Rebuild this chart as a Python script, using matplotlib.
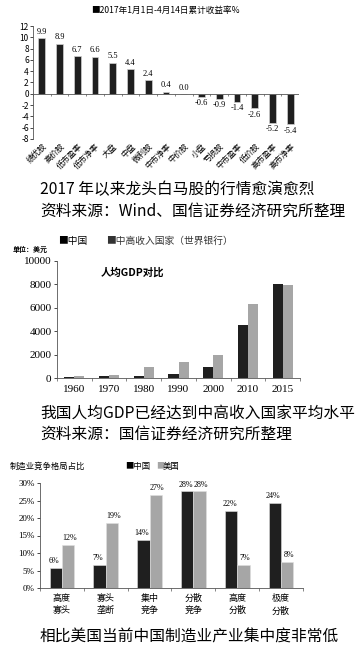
import matplotlib
matplotlib.use('Agg')
import matplotlib.pyplot as plt
import numpy as np

plt.rcParams['font.family'] = ['Noto Sans CJK SC', 'DejaVu Sans']
plt.rcParams['axes.unicode_minus'] = False

W, H = 356, 647

# chart 1: 2017 returns by style index
styles = ['绩优股', '高价股', '低市盈率', '低市净率', '大盘', '中盘', '微利股', '中市净率',
          '中价股', '小盘', '亏损股', '中市盈率', '低价股', '高市盈率', '高市净率']
returns = [9.9, 8.9, 6.7, 6.6, 5.5, 4.4, 2.4, 0.4, 0.0, -0.6, -0.9, -1.4, -2.6, -5.2, -5.4]

# chart 2: GDP per capita
years = ['1960', '1970', '1980', '1990', '2000', '2010', '2015']
gdp_china = [120, 130, 210, 320, 960, 4560, 8030]
gdp_umi = [190, 290, 900, 1330, 1960, 6330, 7950]

# chart 3: manufacturing competition structure
structures = ['高度\n寡头', '寡头\n垄断', '集中\n竞争', '分散\n竞争', '高度\n分散', '极度\n分散']
share_china = [5.8, 6.6, 13.7, 27.6, 22.0, 24.2]
share_us = [12.2, 18.6, 26.7, 27.6, 6.6, 7.5]

DARK = '#1f1f1f'
GREY = '#a6a6a6'
SERIF = ['Liberation Serif', 'DejaVu Serif']


def box(l, t, r, b):
    return [l / W, 1 - b / H, (r - l) / W, (b - t) / H]


def fx(x):
    return x / W


def fy(y):
    return 1 - y / H


fig = plt.figure(figsize=(W / 100, H / 100), dpi=100)

# ---------- chart 1 ----------
ax1 = fig.add_axes(box(33, 26, 299, 139))
x1 = np.arange(len(styles))
ax1.bar(x1, returns, width=0.38, color=DARK, edgecolor='#d0d0d0', linewidth=0.5)
for xi, v in zip(x1, returns):
    if v >= 0:
        ax1.text(xi, v + 0.4, f'{v:.1f}', ha='center', va='bottom', fontsize=6, family=SERIF)
    else:
        ax1.text(xi, v - 0.4, f'{v:.1f}', ha='center', va='top', fontsize=6, family=SERIF)
ax1.set_xlim(-0.5, len(styles) - 0.5)
ax1.set_ylim(-8, 12)
ax1.set_yticks(range(-8, 13, 2))
ax1.tick_params(axis='y', labelsize=6, length=2, width=0.5, pad=1)
ax1.set_xticks(x1)
ax1.set_xticklabels(styles, rotation=45, ha='right', rotation_mode='anchor', fontsize=5.8)
ax1.tick_params(axis='x', length=0, pad=2)
for s in ['top', 'right', 'bottom']:
    ax1.spines[s].set_visible(False)
ax1.spines['left'].set_linewidth(0.6)
ax1.spines['left'].set_color('#555555')
ax1.axhline(0, color='#555555', lw=0.6)
ax1.vlines(np.arange(len(styles) + 1) - 0.5, -0.35, 0, color='#555555', lw=0.5)
fig.text(fx(165), fy(10), '■2017年1月1日-4月14日累计收益率%', ha='center', va='center', fontsize=6.2)

fig.text(fx(40), fy(190), '2017 年以来龙头白马股的行情愈演愈烈', ha='left', va='center', fontsize=11.3)
fig.text(fx(40), fy(211), '资料来源：Wind、国信证券经济研究所整理', ha='left', va='center', fontsize=11.3)

# ---------- chart 2 ----------
ax2 = fig.add_axes(box(57, 261, 300, 378))
x2 = np.arange(len(years))
ax2.bar(x2 - 0.145, gdp_china, width=0.29, color=DARK)
ax2.bar(x2 + 0.145, gdp_umi, width=0.29, color=GREY)
ax2.set_xlim(-0.5, len(years) - 0.5)
ax2.set_ylim(0, 10000)
ax2.set_yticks(range(0, 10001, 2000))
ax2.set_yticklabels([str(v) for v in range(0, 10001, 2000)], family=SERIF)
ax2.tick_params(axis='y', labelsize=8, length=2, width=0.5, pad=2)
ax2.set_xticks(x2)
ax2.set_xticklabels(years, family=SERIF, fontsize=8)
ax2.tick_params(axis='x', length=0, pad=5)
for s in ['top', 'right']:
    ax2.spines[s].set_visible(False)
for s in ['left', 'bottom']:
    ax2.spines[s].set_linewidth(0.6)
    ax2.spines[s].set_color('#555555')
ax2.vlines(np.arange(len(years) + 1) - 0.5, -250, 0, color='#555555', lw=0.5, clip_on=False)
ax2.text(0.31, 0.9, '人均GDP对比', transform=ax2.transAxes, ha='center', va='center',
         fontsize=7.5, fontweight='bold')
fig.text(fx(58), fy(241), '■中国', ha='left', va='center', fontsize=7)
fig.text(fx(106), fy(241), '■中高收入国家（世界银行）', ha='left', va='center', fontsize=7, color='#333333')
fig.text(fx(13), fy(249), '单位：美元', ha='left', va='center', fontsize=5, fontweight='bold')

fig.text(fx(40), fy(413), '我国人均GDP已经达到中高收入国家平均水平', ha='left', va='center', fontsize=11.3)
fig.text(fx(40), fy(434), '资料来源：国信证券经济研究所整理', ha='left', va='center', fontsize=11.3)

# ---------- chart 3 ----------
ax3 = fig.add_axes(box(40, 483, 303, 588))
x3 = np.arange(len(structures))
ax3.bar(x3 - 0.14, share_china, width=0.28, color=DARK, edgecolor='#e0e0e0', linewidth=0.4)
ax3.bar(x3 + 0.14, share_us, width=0.28, color=GREY, edgecolor='#e0e0e0', linewidth=0.4)
for xi, a, b in zip(x3, share_china, share_us):
    ax3.text(xi - 0.175, a + 0.8, f'{a:.0f}%', ha='center', va='bottom', fontsize=5.8, family=SERIF)
    ax3.text(xi + 0.175, b + 0.8, f'{b:.0f}%', ha='center', va='bottom', fontsize=5.8, family=SERIF)
ax3.set_xlim(-0.5, len(structures) - 0.5)
ax3.set_ylim(0, 30)
ax3.set_yticks(range(0, 31, 5))
ax3.set_yticklabels([f'{v}%' for v in range(0, 31, 5)], family=SERIF)
ax3.tick_params(axis='y', labelsize=6.5, length=2, width=0.5, pad=2)
ax3.set_xticks(x3)
ax3.set_xticklabels(structures, fontsize=6.5, linespacing=1.5)
ax3.tick_params(axis='x', length=0, pad=4)
for s in ['top', 'right']:
    ax3.spines[s].set_visible(False)
for s in ['left', 'bottom']:
    ax3.spines[s].set_linewidth(0.6)
    ax3.spines[s].set_color('#555555')
ax3.vlines(np.arange(len(structures) + 1) - 0.5, -0.8, 0, color='#555555', lw=0.5, clip_on=False)
fig.text(fx(10), fy(466), '制造业竞争格局占比', ha='left', va='center', fontsize=6)
fig.text(fx(125), fy(466), '■中国', ha='left', va='center', fontsize=6)
fig.text(fx(156), fy(466), '■', ha='left', va='center', fontsize=6, color=GREY)
fig.text(fx(163), fy(466), '美国', ha='left', va='center', fontsize=6)

fig.text(fx(40), fy(637), '相比美国当前中国制造业产业集中度非常低', ha='left', va='center', fontsize=11.3)

fig.savefig('out.png', dpi=100)
